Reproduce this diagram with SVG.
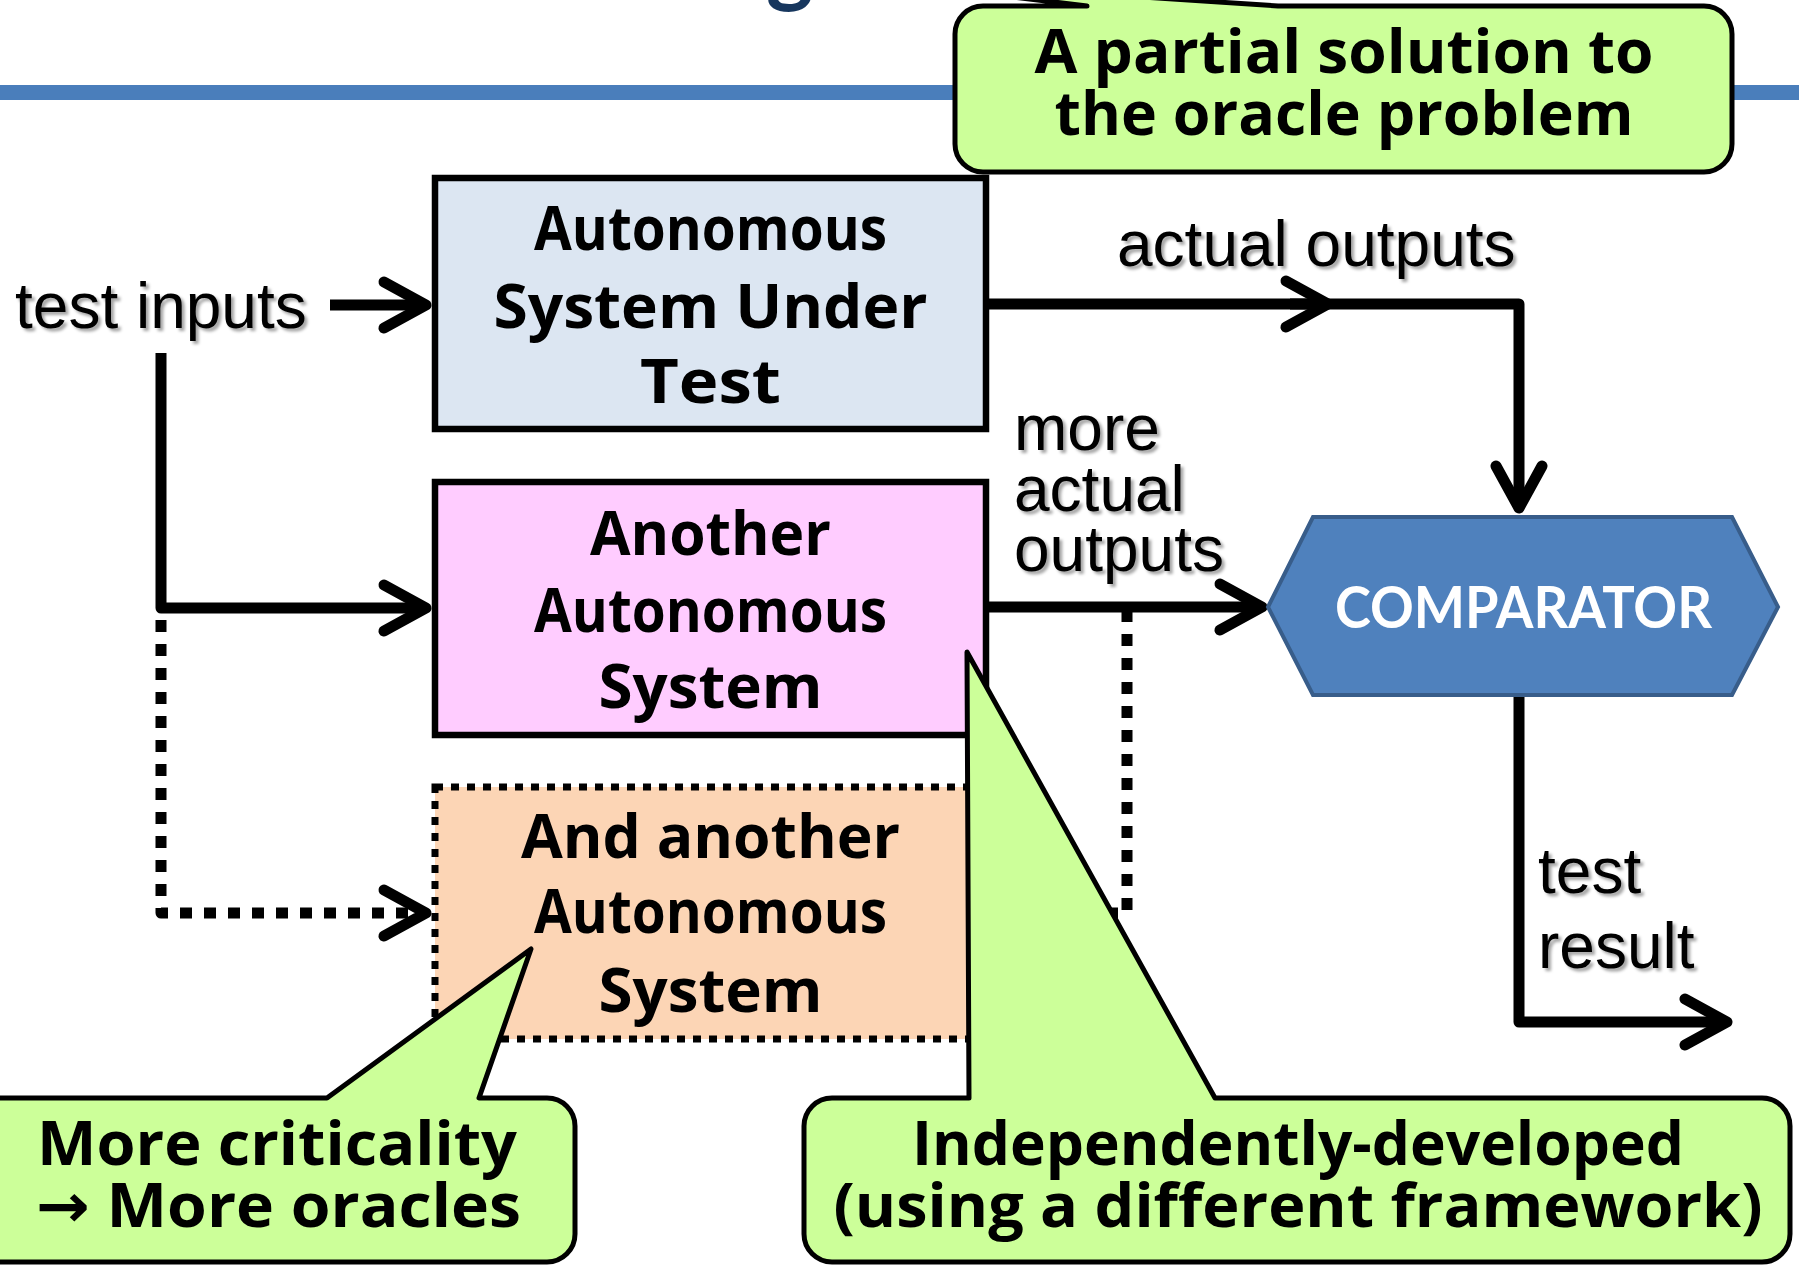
<svg xmlns="http://www.w3.org/2000/svg" width="1799" height="1265" viewBox="0 0 1799 1265">
<defs>
<style>
.box{stroke:#000;stroke-width:6.5}
.dotbox{stroke:#000;stroke-width:7;stroke-dasharray:8 8}
.hand{font-family:"Open Sans","DejaVu Sans",sans-serif;font-weight:700;font-size:61px;fill:#000}
.lbl{font-family:"Liberation Sans",Arial,sans-serif;font-size:64px;fill:#000;filter:url(#sh)}
.conn{fill:none;stroke:#000;stroke-width:11;stroke-linejoin:round}
.dot{stroke-dasharray:12 12}
.call{fill:#CCFF99;stroke:#000;stroke-width:5;stroke-linejoin:round}
</style>
<filter id="sh" x="-10%" y="-20%" width="130%" height="150%">
<feDropShadow dx="3" dy="3" stdDeviation="1.5" flood-color="#000" flood-opacity="0.35"/>
</filter>
<marker id="arr" markerUnits="userSpaceOnUse" viewBox="-60 -35 70 70" markerWidth="70" markerHeight="70" refX="0" refY="0" orient="auto" overflow="visible">
<path d="M -42 -23 L 0 0 L -42 23" fill="none" stroke="#000" stroke-width="11" stroke-linecap="round" stroke-linejoin="round" stroke-dasharray="none"/>
</marker>
</defs>
<rect width="1799" height="1265" fill="#fff"/>
<rect x="0" y="85" width="1799" height="15" fill="#4A7EBB"/>
<text x="766" y="-5" font-family="Lato,'Open Sans',sans-serif" font-weight="700" font-size="90" fill="#17375E">g</text>

<g id="callout-partial">
<path class="call" d="M 983 6 H 1087 L 856 -22 L 1278 6 H 1704 A 28 28 0 0 1 1732 34 V 144 A 28 28 0 0 1 1704 172 H 983 A 28 28 0 0 1 955 144 V 34 A 28 28 0 0 1 983 6 Z"/>
<text class="hand" x="1344" y="73" text-anchor="middle" textLength="619" lengthAdjust="spacingAndGlyphs">A partial solution to</text>
<text class="hand" x="1344" y="135" text-anchor="middle" textLength="579" lengthAdjust="spacingAndGlyphs">the oracle problem</text>
</g>

<g id="label-test-inputs"><text class="lbl" x="15" y="328">test inputs</text></g>
<g id="label-actual-outputs"><text class="lbl" x="1117" y="266">actual outputs</text></g>
<g id="label-more-actual-outputs">
<text class="lbl" x="1014" y="450">more</text>
<text class="lbl" x="1014" y="511">actual</text>
<text class="lbl" x="1014" y="571">outputs</text>
</g>
<g id="label-test-result">
<text class="lbl" x="1538" y="893">test</text>
<text class="lbl" x="1538" y="968">result</text>
</g>

<g id="sut">
<rect class="box" x="435" y="178" width="551" height="251" fill="#DCE6F2"/>
<text class="hand" x="710.5" y="250" text-anchor="middle" textLength="353" lengthAdjust="spacingAndGlyphs">Autonomous</text>
<text class="hand" x="710.5" y="328" text-anchor="middle" textLength="434" lengthAdjust="spacingAndGlyphs">System Under</text>
<text class="hand" x="710.5" y="403" text-anchor="middle" textLength="141" lengthAdjust="spacingAndGlyphs">Test</text>
</g>

<g id="another">
<rect class="box" x="435" y="482" width="551" height="253" fill="#FFCCFF"/>
<text class="hand" x="710.5" y="555" text-anchor="middle" textLength="241" lengthAdjust="spacingAndGlyphs">Another</text>
<text class="hand" x="710.5" y="632" text-anchor="middle" textLength="353" lengthAdjust="spacingAndGlyphs">Autonomous</text>
<text class="hand" x="710.5" y="708" text-anchor="middle" textLength="224" lengthAdjust="spacingAndGlyphs">System</text>
</g>

<g id="and-another">
<rect class="dotbox" x="435" y="787" width="551" height="252" fill="#FCD5B5"/>
<text class="hand" x="710.5" y="858" text-anchor="middle" textLength="379" lengthAdjust="spacingAndGlyphs">And another</text>
<text class="hand" x="710.5" y="933" text-anchor="middle" textLength="353" lengthAdjust="spacingAndGlyphs">Autonomous</text>
<text class="hand" x="710.5" y="1012" text-anchor="middle" textLength="224" lengthAdjust="spacingAndGlyphs">System</text>
</g>

<g id="connectors">
<path class="conn" d="M 330 305 H 426" marker-end="url(#arr)"/>
<path class="conn" d="M 161 353 V 608 H 426" marker-end="url(#arr)"/>
<path class="conn dot" d="M 161 620 V 913 H 426" marker-end="url(#arr)"/>
<path class="conn" d="M 986 304 H 1519 V 508" marker-end="url(#arr)"/>
<path class="conn" d="M 1290 304 H 1328" marker-end="url(#arr)"/>
<path class="conn" d="M 986 607 H 1262" marker-end="url(#arr)"/>
<path class="conn dot" d="M 986 913 H 1127 V 611"/>
<path class="conn" d="M 1519 697 V 1022 H 1727" marker-end="url(#arr)"/>
</g>

<g id="comparator">
<polygon points="1268,607 1313,517 1732,517 1778,607 1732,695 1313,695" fill="#4F81BD" stroke="#385D8A" stroke-width="4"/>
<text x="1523.5" y="628" text-anchor="middle" font-family="Lato,'Open Sans',sans-serif" font-weight="700" font-size="57" fill="#fff" textLength="377" lengthAdjust="spacingAndGlyphs">COMPARATOR</text>
</g>

<g id="callout-criticality">
<path class="call" d="M -10 1098 H 327 L 531 949 L 479 1098 H 547 A 28 28 0 0 1 575 1126 V 1234 A 28 28 0 0 1 547 1262 H -10 Z"/>
<text class="hand" x="37" y="1165" textLength="480" lengthAdjust="spacingAndGlyphs">More criticality</text>
<text class="hand" x="36" y="1227" textLength="485" lengthAdjust="spacingAndGlyphs">→ More oracles</text>
</g>

<g id="callout-independent">
<path class="call" d="M 832 1098 H 969 L 967 652 L 1215 1098 H 1762 A 28 28 0 0 1 1790 1126 V 1234 A 28 28 0 0 1 1762 1262 H 832 A 28 28 0 0 1 804 1234 V 1126 A 28 28 0 0 1 832 1098 Z"/>
<text class="hand" x="1298" y="1165" text-anchor="middle" textLength="772" lengthAdjust="spacingAndGlyphs">Independently-developed</text>
<text class="hand" x="1298" y="1227" text-anchor="middle" textLength="929" lengthAdjust="spacingAndGlyphs">(using a different framework)</text>
</g>
</svg>
